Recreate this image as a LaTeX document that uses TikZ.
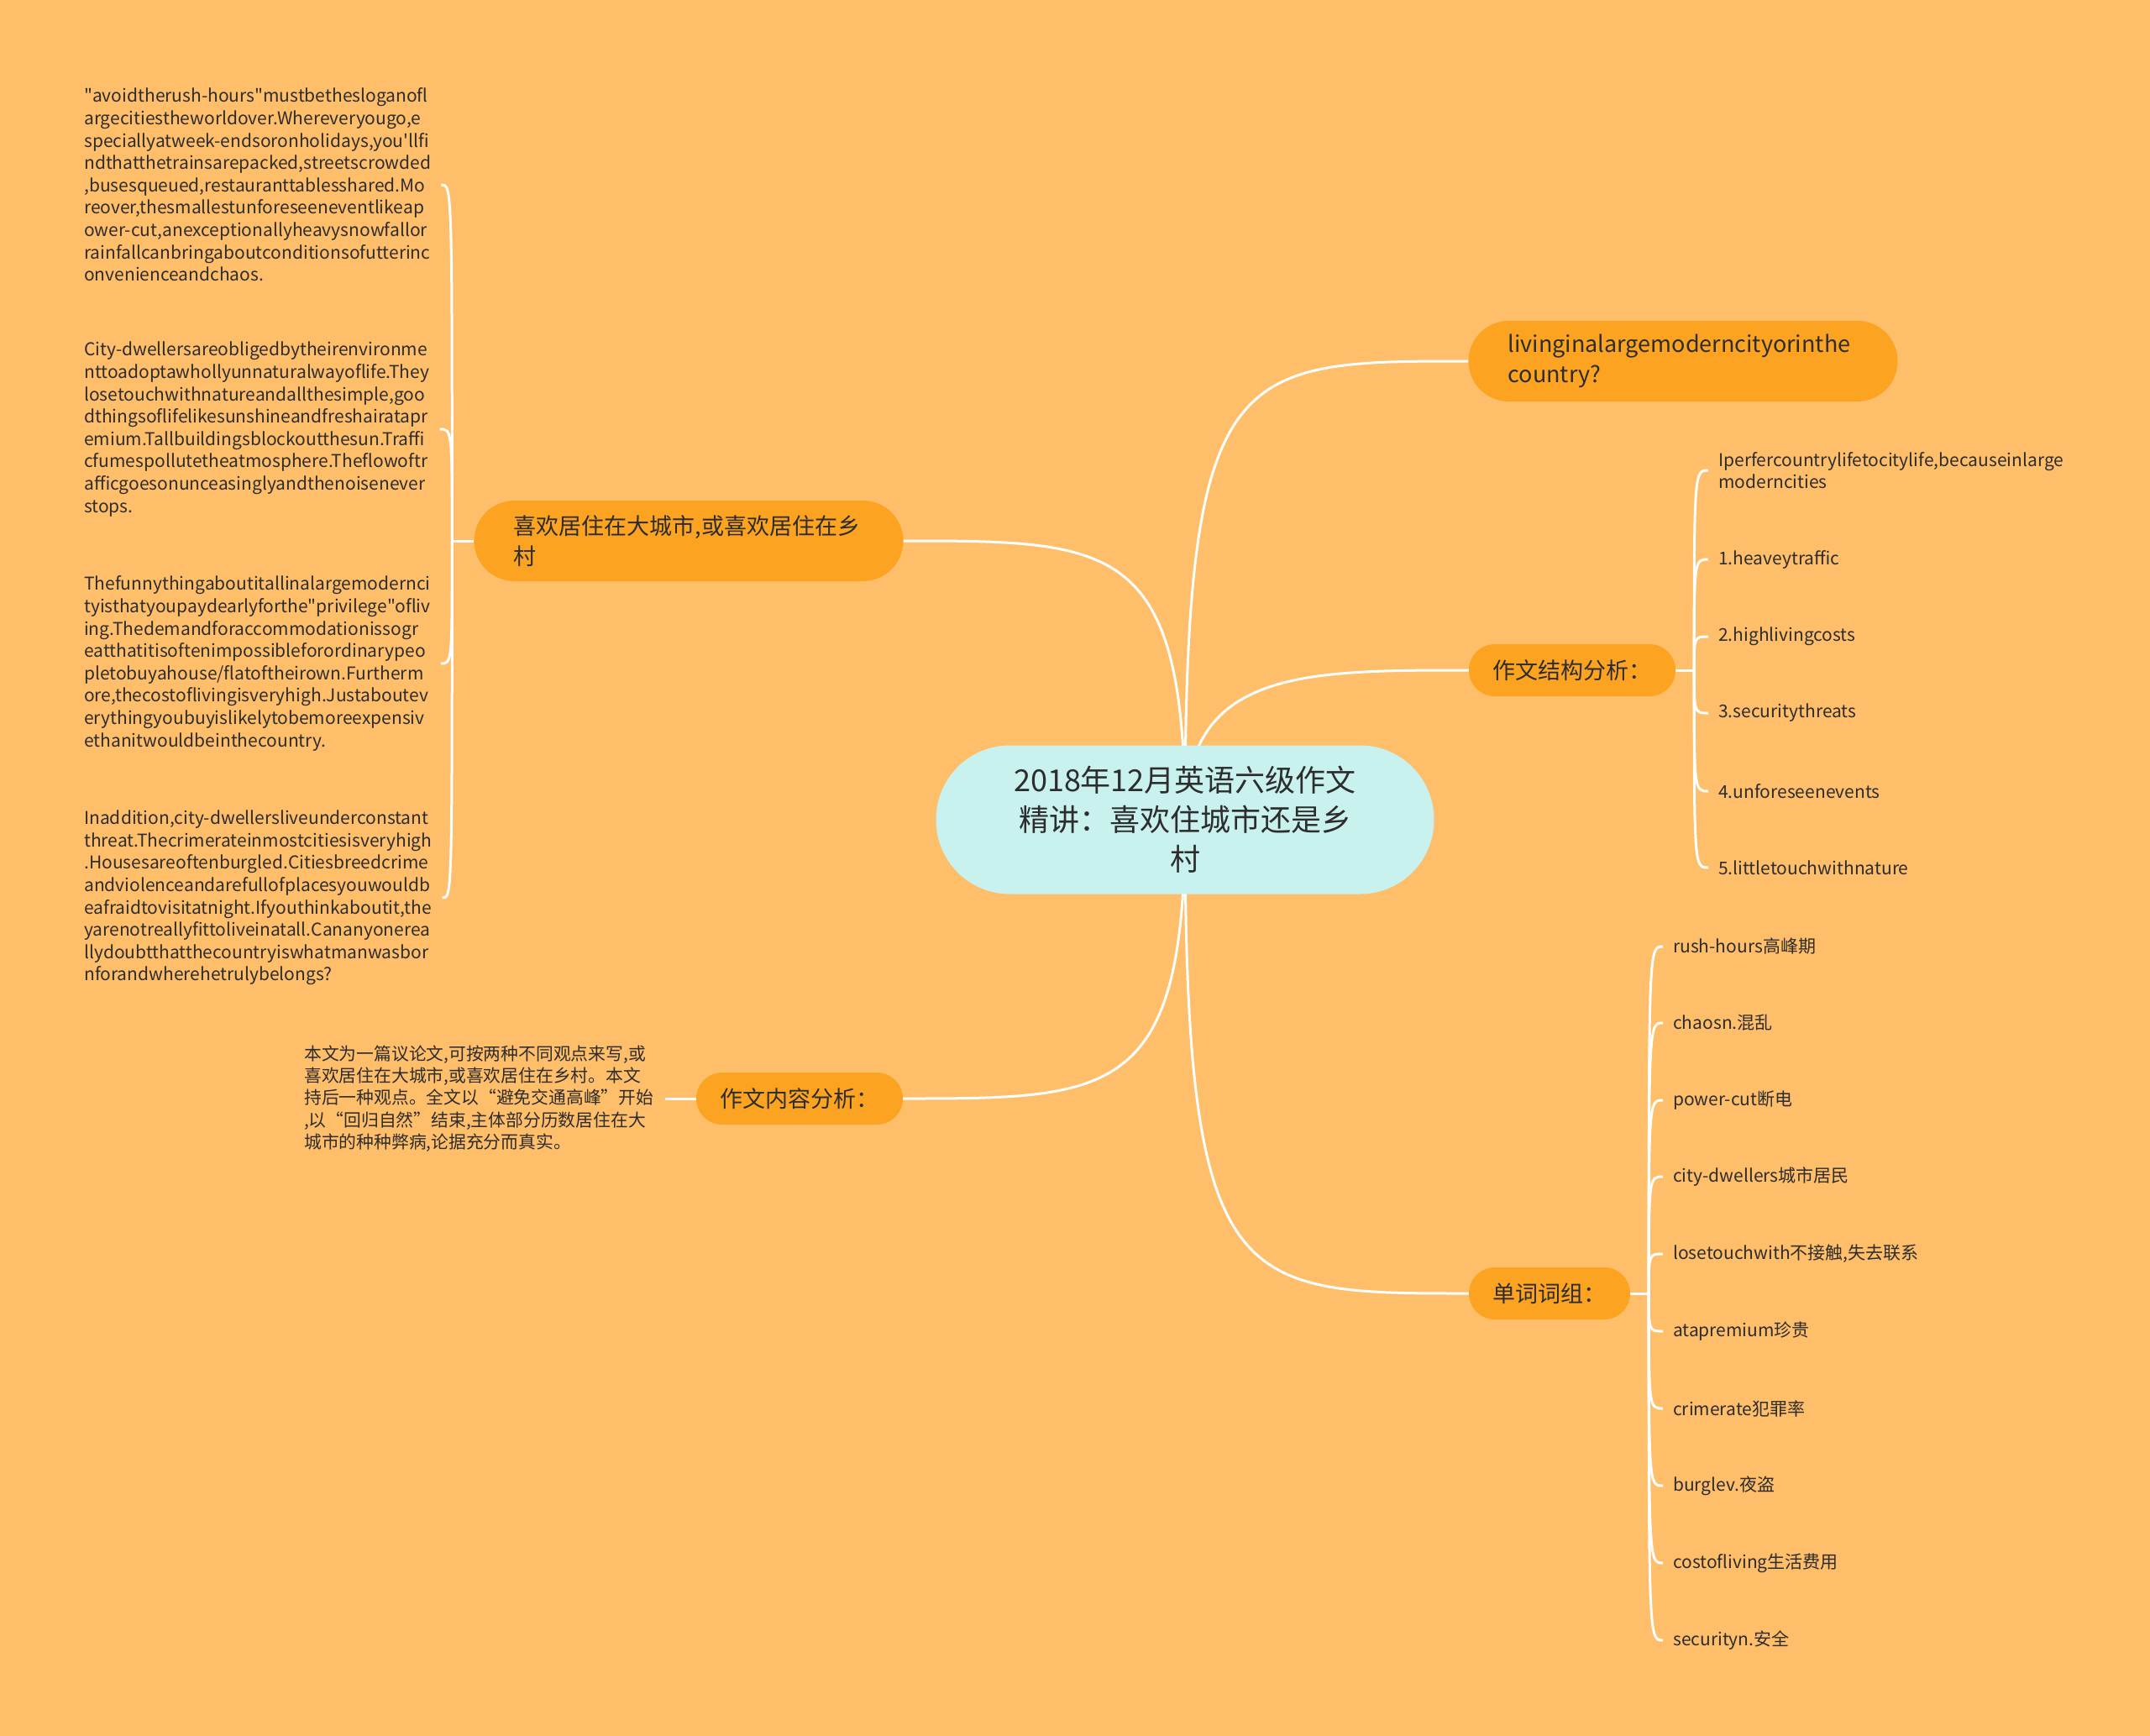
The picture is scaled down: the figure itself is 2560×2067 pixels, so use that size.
\documentclass[tikz,border=0pt]{standalone}
\usepackage{fontspec}
\setmainfont[Ligatures=TeXOff]{Noto Sans CJK SC}
\usetikzlibrary{positioning,backgrounds}
\definecolor{MapBack}{RGB}{255,190,105}
\definecolor{MapOrange}{RGB}{252,163,33}
\definecolor{MapCyan}{RGB}{201,242,238}
\definecolor{MapText}{RGB}{45,45,45}

\begin{document}
\begin{tikzpicture}[
    x=1pt,
    y=-1pt,
    root/.style={
        fill=MapCyan,
        rounded corners=88pt,
        minimum width=593pt,
        minimum height=177pt,
        align=center,
        text=MapText,
        font=\fontsize{36}{47}\selectfont
    },
    branch/.style={
        fill=MapOrange,
        rounded corners=31pt,
        minimum height=62pt,
        align=center,
        text=MapText,
        font=\fontsize{27}{36}\selectfont
    },
    longbranch/.style={
        branch,
        rounded corners=48pt,
        minimum height=96pt,
        inner xsep=47pt,
        text width=417pt,
        align=left
    },
    leaf/.style={
        align=left,
        inner xsep=12pt,
        inner ysep=0pt,
        text=MapText,
        font=\fontsize{21}{26.6}\selectfont
    },
    link/.style={
        draw=white,
        line width=3pt
    }
]

% =========================
% Centre and main branches
% =========================
\node[root] (root) at (1411,976) {2018年12月英语六级作文\\精讲：喜欢住城市还是乡\\村};

\node[longbranch] (city)      at (2004,430)  {livinginalargemoderncityorinthe\\country?};
\node[longbranch] (like)      at (820,644)   {喜欢居住在大城市,或喜欢居住在乡\\村};
\node[branch, minimum width=246pt] (structure) at (1872,798)  {作文结构分析：};
\node[branch, minimum width=246pt] (content)   at (952,1308)  {作文内容分析：};
\node[branch, minimum width=192pt] (words)     at (1845,1540) {单词词组：};

% =========================
% Left: four paragraphs
% =========================
\node[leaf, anchor=west] (rush) at (88,220) {"avoidtherush-hours"mustbethesloganofl\\argecitiestheworldover.Whereveryougo,e\\speciallyatweek-endsoronholidays,you'llfi\\ndthatthetrainsarepacked,streetscrowded\\,busesqueued,restauranttablesshared.Mo\\reover,thesmallestunforeseeneventlikeap\\ower-cut,anexceptionallyheavysnowfallor\\rainfallcanbringaboutconditionsofutterinc\\onvenienceandchaos.};
\node[leaf, anchor=west] (dwell) at (88,511) {City-dwellersareobligedbytheirenvironme\\nttoadoptawhollyunnaturalwayoflife.They\\losetouchwithnatureandallthesimple,goo\\dthingsoflifelikesunshineandfreshairatapr\\emium.Tallbuildingsblockoutthesun.Traffi\\cfumespollutetheatmosphere.Theflowoftr\\afficgoesonunceasinglyandthenoisenever\\stops.};
\node[leaf, anchor=west] (cost) at (88,790) {Thefunnythingaboutitallinalargemodernci\\tyisthatyoupaydearlyforthe"privilege"ofliv\\ing.Thedemandforaccommodationissogr\\eatthatitisoftenimpossibleforordinarypeo\\pletobuyahouse/flatoftheirown.Furtherm\\ore,thecostoflivingisveryhigh.Justaboutev\\erythingyoubuyislikelytobemoreexpensiv\\ethanitwouldbeinthecountry.};
\node[leaf, anchor=west] (crime) at (88,1069) {Inaddition,city-dwellersliveunderconstant\\threat.Thecrimerateinmostcitiesisveryhigh\\.Housesareoftenburgled.Citiesbreedcrime\\andviolenceandarefullofplacesyouwouldb\\eafraidtovisitatnight.Ifyouthinkaboutit,the\\yarenotreallyfittoliveinatall.Cananyonerea\\llydoubtthatthecountryiswhatmanwasbor\\nforandwherehetrulybelongs?};

% =========================
% Bottom left: content note
% =========================
\node[leaf, anchor=west, text width=418pt, font=\fontsize{20.8}{26.2}\selectfont] (note) at (350,1308) {本文为一篇议论文,可按两种不同观点来写,或\\喜欢居住在大城市,或喜欢居住在乡村。本文\\持后一种观点。全文以“避免交通高峰”开始\\,以“回归自然”结束,主体部分历数居住在大\\城市的种种弊病,论据充分而真实。};

% =========================
% Right: structure points
% =========================
\node[leaf, anchor=west] (prefer) at (2034,560)  {Iperfercountrylifetocitylife,becauseinlarge\\moderncities};
\node[leaf, anchor=west] (pointa) at (2034,666)  {1.heaveytraffic};
\node[leaf, anchor=west] (pointb) at (2034,758)  {2.highlivingcosts};
\node[leaf, anchor=west] (pointc) at (2034,849)  {3.securitythreats};
\node[leaf, anchor=west] (pointd) at (2034,942)  {4.unforeseenevents};
\node[leaf, anchor=west] (pointe) at (2034,1033) {5.littletouchwithnature};

% =========================
% Right: word list
% =========================
\node[leaf, anchor=west] (wa) at (1980,1127) {rush-hours高峰期};
\node[leaf, anchor=west] (wb) at (1980,1218) {chaosn.混乱};
\node[leaf, anchor=west] (wc) at (1980,1310) {power-cut断电};
\node[leaf, anchor=west] (wd) at (1980,1401) {city-dwellers城市居民};
\node[leaf, anchor=west] (we) at (1980,1493) {losetouchwith不接触,失去联系};
\node[leaf, anchor=west] (wf) at (1980,1585) {atapremium珍贵};
\node[leaf, anchor=west] (wg) at (1980,1677) {crimerate犯罪率};
\node[leaf, anchor=west] (wh) at (1980,1769) {burglev.夜盗};
\node[leaf, anchor=west] (wi) at (1980,1861) {costofliving生活费用};
\node[leaf, anchor=west] (wj) at (1980,1953) {securityn.安全};

% fork points of the brackets
\coordinate (likefork)  at ([xshift=-26pt]like.west);
\coordinate (structfork) at ([xshift=22pt]structure.east);
\coordinate (wordfork)  at ([xshift=22pt]words.east);

% =========================
% Connectors, behind the nodes
% =========================
\begin{scope}[on background layer]
\fill[MapBack] (0,0) rectangle (2560,2067);

\draw[link] (root.center) .. controls (root.center |- city.west) and ([xshift=-280pt]city.west) .. (city.west);
\draw[link] (root.center) .. controls (root.center |- structure.west) and ([xshift=-200pt]structure.west) .. (structure.west);
\draw[link] (root.center) .. controls (root.center |- like.east) and ([xshift=250pt]like.east) .. (like.east);
\draw[link] (root.center) .. controls (root.center |- content.east) and ([xshift=250pt]content.east) .. (content.east);
\draw[link] (root.center) .. controls (root.center |- words.west) and ([xshift=-280pt]words.west) .. (words.west);

\draw[link] (like.west) -- (likefork);
\draw[link] (likefork) .. controls (likefork |- rush.east) .. (rush.east);
\draw[link] (likefork) .. controls (likefork |- dwell.east) .. (dwell.east);
\draw[link] (likefork) .. controls (likefork |- cost.east) .. (cost.east);
\draw[link] (likefork) .. controls (likefork |- crime.east) .. (crime.east);

\draw[link] (content.west) -- (note.east);

\draw[link] (structure.east) -- (structfork);
\draw[link] (structfork) .. controls (structfork |- prefer.west) .. (prefer.west);
\draw[link] (structfork) .. controls (structfork |- pointa.west) .. (pointa.west);
\draw[link] (structfork) .. controls (structfork |- pointb.west) .. (pointb.west);
\draw[link] (structfork) .. controls (structfork |- pointc.west) .. (pointc.west);
\draw[link] (structfork) .. controls (structfork |- pointd.west) .. (pointd.west);
\draw[link] (structfork) .. controls (structfork |- pointe.west) .. (pointe.west);

\draw[link] (words.east) -- (wordfork);
\draw[link] (wordfork) .. controls (wordfork |- wa.west) .. (wa.west);
\draw[link] (wordfork) .. controls (wordfork |- wb.west) .. (wb.west);
\draw[link] (wordfork) .. controls (wordfork |- wc.west) .. (wc.west);
\draw[link] (wordfork) .. controls (wordfork |- wd.west) .. (wd.west);
\draw[link] (wordfork) .. controls (wordfork |- we.west) .. (we.west);
\draw[link] (wordfork) .. controls (wordfork |- wf.west) .. (wf.west);
\draw[link] (wordfork) .. controls (wordfork |- wg.west) .. (wg.west);
\draw[link] (wordfork) .. controls (wordfork |- wh.west) .. (wh.west);
\draw[link] (wordfork) .. controls (wordfork |- wi.west) .. (wi.west);
\draw[link] (wordfork) .. controls (wordfork |- wj.west) .. (wj.west);
\end{scope}

\end{tikzpicture}
\end{document}
